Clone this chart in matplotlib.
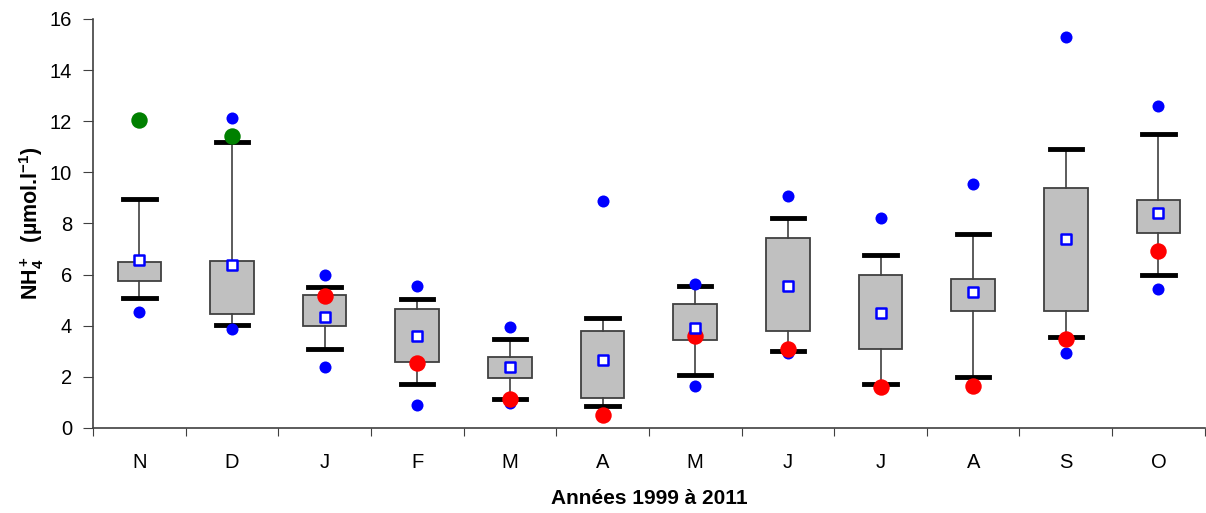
import matplotlib
matplotlib.use("Agg")
import matplotlib.pyplot as plt
import numpy as np

months = ["N", "D", "J", "F", "M", "A", "M", "J", "J", "A", "S", "O"]
whisk_low = [5.10, 4.03, 3.08, 1.72, 1.12, 0.85, 2.06, 3.01, 1.72, 2.00, 3.55, 5.97]
q1 = [5.74, 4.46, 3.99, 2.57, 1.96, 1.16, 3.43, 3.78, 3.10, 4.59, 4.59, 7.63]
q3 = [6.48, 6.55, 5.20, 4.66, 2.76, 3.78, 4.86, 7.42, 6.00, 5.82, 9.38, 8.92]
whisk_high = [8.95, 11.18, 5.52, 5.03, 3.48, 4.29, 5.57, 8.20, 6.78, 7.60, 10.90, 11.51]
means = [6.58, 6.38, 4.35, 3.61, 2.40, 2.67, 3.90, 5.57, 4.49, 5.31, 7.39, 8.41]
blue_min = [4.55, 3.87, 2.40, 0.91, 0.99, 0.51, 1.66, 2.92, 1.59, 1.66, 2.93, 5.44]
blue_max = [12.05, 12.12, 5.97, 5.57, 3.95, 8.88, 5.65, 9.09, 8.20, 9.56, 15.30, 12.60]
red_vals = [np.nan, np.nan, 5.16, 2.53, 1.12, 0.51, 3.61, 3.08, 1.59, 1.66, 3.48, 6.92]
green_vals = [12.05, 11.44, np.nan, np.nan, np.nan, np.nan, np.nan, np.nan, np.nan, np.nan, np.nan, np.nan]

plt.rcParams['font.family'] = ['Liberation Sans', 'DejaVu Sans']
plt.rcParams['mathtext.fontset'] = 'custom'
plt.rcParams['mathtext.rm'] = 'Liberation Sans:bold'
plt.rcParams['mathtext.it'] = 'Liberation Sans:bold'
plt.rcParams['mathtext.bf'] = 'Liberation Sans:bold'

fig = plt.figure(figsize=(12.06, 5.13), dpi=100)
ax = fig.add_axes([0.0771, 0.1657, 0.9219, 0.7973])

x = np.arange(len(months))
stats = []
for i in range(len(months)):
    stats.append(dict(med=np.nan, q1=q1[i], q3=q3[i], whislo=whisk_low[i], whishi=whisk_high[i], fliers=[]))

ax.bxp(stats, positions=x, widths=0.47, patch_artist=True, showfliers=False,
       boxprops=dict(facecolor='#c0c0c0', edgecolor='#404040', linewidth=1.3),
       whiskerprops=dict(color='#404040', linewidth=1.2),
       capprops=dict(color='black', linewidth=3.5),
       medianprops=dict(linewidth=0), capwidths=0.35)

ax.scatter(x, blue_min, s=75, color='#0000ff', zorder=4, linewidths=0)
ax.scatter(x, blue_max, s=75, color='#0000ff', zorder=4, linewidths=0)
ax.scatter(x, red_vals, s=140, color='#ff0000', zorder=5, linewidths=0)
ax.scatter(x, green_vals, s=140, color='#008000', zorder=5, linewidths=0)
ax.scatter(x, means, s=60, marker='s', facecolor='white', edgecolor='#0000ff', linewidths=1.8, zorder=6)

ax.set_xlim(-0.5, len(months) - 0.5)
ax.set_ylim(0, 16)
ax.set_yticks(np.arange(0, 17, 2))
ax.tick_params(axis='y', labelsize=14.5, length=7, pad=8, direction='out', color='#404040')
ax.set_xticks(np.arange(-0.5, len(months), 1.0))
ax.set_xticklabels([])
ax.set_xticks(x, minor=True)
ax.set_xticklabels(months, minor=True)
ax.tick_params(axis='x', which='major', length=6, direction='out', color='#404040')
ax.tick_params(axis='x', which='minor', length=0, labelsize=14.5, pad=18)

for s in ['top', 'right']:
    ax.spines[s].set_visible(False)
for s in ['left', 'bottom']:
    ax.spines[s].set_color('#404040')
    ax.spines[s].set_linewidth(1.2)

ax.set_xlabel('Années 1999 à 2011', fontsize=15, fontweight='bold', labelpad=12)
ax.set_ylabel(r'NH$_4^+$  (µmol.l$^{-1}$)', fontsize=15.5, fontweight='bold', labelpad=3)

fig.savefig('out.png', dpi=100)
